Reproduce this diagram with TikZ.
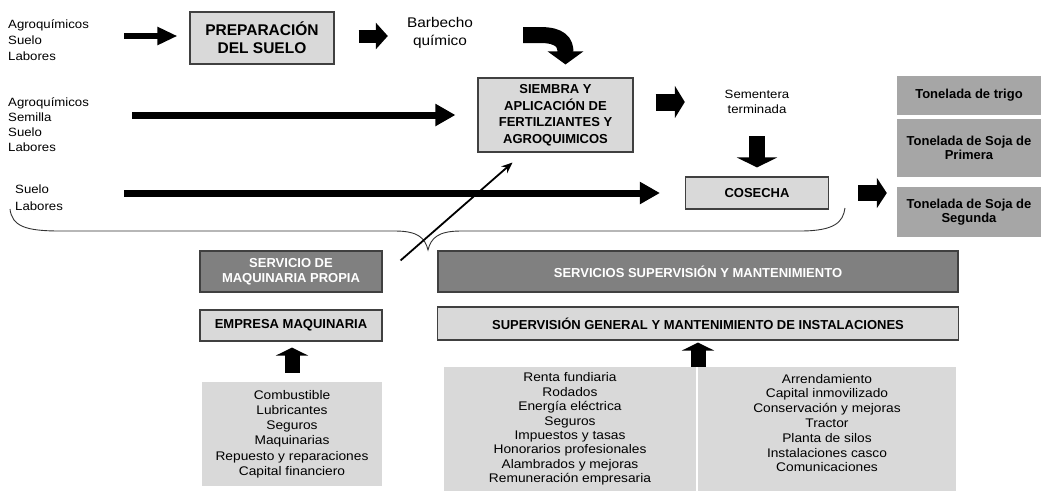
\documentclass[tikz,border=0pt]{standalone}
\usepackage{fontspec}
\setmainfont{Liberation Sans}[FakeStretch=1.1,BoldFeatures={FakeStretch=1.0}]
\usetikzlibrary{arrows.meta}
\tikzset{
    box color/.style={fill=gray!30},
    box line/.style={draw=black!75, line width=1.1pt},
    light box/.style={box color, box line, inner sep=0pt, align=center, font=\bfseries\fontsize{13}{15}\selectfont},
    dark box/.style={light box, fill=gray, text=white},
    result box/.style={fill=gray!70, inner sep=0pt, align=center, font=\bfseries\fontsize{13}{14.5}\selectfont},
    list box/.style={box color, inner sep=0pt, align=center, font=\fontsize{12.5}{15.2}\selectfont},
    input text/.style={inner sep=0pt, align=left, anchor=west},
    label text/.style={inner sep=0pt, align=center},
    thick arr/.style={-{Triangle[length=20pt,width=21pt]}, line width=7pt},
    block arr/.style n args={3}{-{Triangle[width=#2,length=#3]}, line width=#1},
    thin arr/.style={-{Stealth[length=11pt,width=9pt]}, line width=1.8pt},
    brace line/.style={black!80, line width=0.9pt},
}
\tikzstyle{every node}=[font=\fontsize{12}{15}\selectfont]

\begin{document}
\begin{tikzpicture}[x=1pt,y=-1pt]
    \useasboundingbox (0,0) rectangle (1041,491);

    \node[input text, font=\fontsize{12}{16}\selectfont] (in prep) at (8,40) {Agroquímicos\\Suelo\\Labores};
    \node[input text] (in siembra) at (8,125) {Agroquímicos\\Semilla\\Suelo\\Labores};
    \node[input text, font=\fontsize{12}{17}\selectfont] (in cosecha) at (15,198) {Suelo\\Labores};

    \node[light box, minimum width=144pt, minimum height=52pt, font=\bfseries\fontsize{15.5}{18}\selectfont] (prep) at (262,38) {PREPARACIÓN\\DEL SUELO};
    \node[label text, text width=72pt, font=\fontsize{14}{18}\selectfont] (barb) at (440,33) {Barbecho\\químico};
    \node[light box, minimum width=155pt, minimum height=74pt, font=\bfseries\fontsize{13}{16.5}\selectfont] (siembra) at (555.5,115) {SIEMBRA Y\\APLICACIÓN DE\\FERTILZIANTES Y\\AGROQUIMICOS};
    \node[label text, text width=66pt] (sem) at (757,102) {Sementera\\terminada};
    \node[light box, minimum width=143pt, minimum height=32pt] (cosecha) at (757,193) {COSECHA};

    \node[result box, minimum width=144pt, minimum height=39pt] (trigo) at (969,95.5) {Tonelada de trigo};
    \node[result box, minimum width=144pt, minimum height=58pt] (primera) at (969,148) {Tonelada de Soja de\\Primera};
    \node[result box, minimum width=144pt, minimum height=50pt] (segunda) at (969,212) {Tonelada de Soja de\\Segunda};

    \node[dark box, minimum width=182pt, minimum height=41pt] (maq) at (291,271.5) {SERVICIO DE\\MAQUINARIA PROPIA};
    \node[dark box, minimum width=520pt, minimum height=41pt] (serv) at (698,271.5) {SERVICIOS SUPERVISIÓN Y MANTENIMIENTO};
    \node[light box, minimum width=182pt, minimum height=31pt] (empresa) at (291,325.5) {EMPRESA MAQUINARIA};
    \node[light box, minimum width=521pt, minimum height=33pt] (supgen) at (698,323.5) {SUPERVISIÓN GENERAL Y MANTENIMIENTO DE INSTALACIONES};

    \node[list box, minimum width=180pt, minimum height=104pt] (costs) at (292,434) {Combustible\\Lubricantes\\Seguros\\Maquinarias\\Repuesto y reparaciones\\Capital financiero};
    \node[list box, minimum width=252pt, minimum height=124pt, font=\fontsize{12.5}{14.4}\selectfont] (rentas) at (570,429) {Renta fundiaria\\Rodados\\Energía eléctrica\\Seguros\\Impuestos y tasas\\Honorarios profesionales\\Alambrados y mejoras\\Remuneración empresaria};
    \node[list box, minimum width=258pt, minimum height=124pt, text depth=12pt, font=\fontsize{12.5}{14.8}\selectfont] (arrend) at (827,429) {Arrendamiento\\Capital inmovilizado\\Conservación y mejoras\\Tractor\\Planta de silos\\Instalaciones casco\\Comunicaciones};

    \coordinate (prep start) at (124,36);
    \coordinate (siembra start) at (132,115);
    \coordinate (cosecha start) at (124,193);
    \draw[thick arr, line width=6pt, -{Triangle[length=20pt,width=17pt]}, shorten >=12pt] (prep start) -- (prep start -| prep.west);
    \draw[thick arr, shorten >=22pt] (siembra start) -- (siembra.west);
    \draw[thick arr, shorten >=25pt] (cosecha start) -- (cosecha.west);

    \draw[block arr={13pt}{26pt}{12pt}, shorten <=24pt, shorten >=16pt] (prep.east |- prep start) -- (barb.west |- prep start);
    \draw[block arr={16pt}{35pt}{13pt}] ([xshift=47pt,yshift=-2pt]barb.east) -- ++(17,0) .. controls +(20,0) and +(0,-22) .. ([xshift=10pt,yshift=13pt]siembra.north);
    \draw[block arr={17pt}{32pt}{10pt}, shorten <=22pt, shorten >=39pt] (siembra.east |- sem.west) -- (sem.west);
    \draw[block arr={16pt}{40pt}{10pt}, shorten <=34pt, shorten >=9pt] (sem.center) -- (cosecha.north);
    \draw[block arr={16pt}{30pt}{10pt}, shorten <=29pt, shorten >=10pt] (cosecha.east) -- (cosecha.east -| segunda.west);
    \draw[block arr={15pt}{32pt}{8pt}, shorten <=9pt, shorten >=6pt] (costs.north) -- (costs.north |- empresa.south);
    \draw[block arr={15pt}{32pt}{8pt}, shorten >=2pt] (supgen.south |- rentas.north) -- (supgen.south);

    \draw[brace line] (10,209) .. controls (12,226) and (25,231) .. (60,231) -- (395,231) .. controls (418,231) and (425,238) .. (428,250) .. controls (431,238) and (438,231) .. (461,231) -- (800,231) .. controls (835,231) and (843,222) .. (845,208);
    \draw[thin arr] ([xshift=18pt,yshift=-10pt]maq.north east) -- ([xshift=-43pt,yshift=-10pt]siembra.south);
\end{tikzpicture}
\end{document}
